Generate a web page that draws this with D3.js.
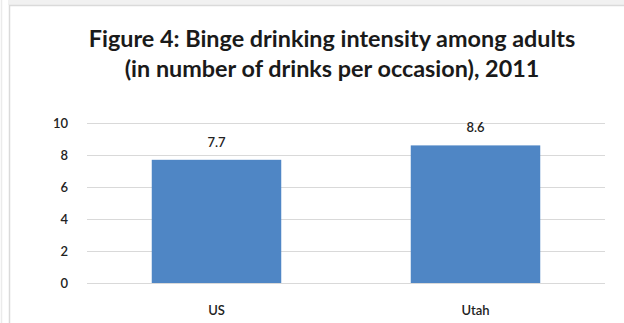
<!DOCTYPE html>
<html><head><meta charset="utf-8">
<script src="https://cdn.jsdelivr.net/npm/d3@7"></script>
<style>html,body{margin:0;padding:0;background:#fff;overflow:hidden}svg{display:block}</style>
</head><body>
<script>
const titleLines = ["Figure 4: Binge drinking intensity among adults", "(in number of drinks per occasion), 2011"];
const categories = ["US", "Utah"];
const values = [7.7, 8.6];
const valueLabels = ["7.7", "8.6"];
const yTicks = [0, 2, 4, 6, 8, 10];

const W = 624, H = 323;
const svg = d3.select("body").append("svg").attr("width", W).attr("height", H);

// page decoration / frame
svg.append("rect").attr("x", 0).attr("y", 0).attr("width", W).attr("height", H).attr("fill", "#fff");
svg.append("rect").attr("x", 8).attr("y", 0).attr("width", W - 8).attr("height", 5).attr("fill", "#f1f1f1");
svg.append("line").attr("x1", 1.5).attr("x2", 1.5).attr("y1", 0).attr("y2", H).attr("stroke", "#ebebeb").attr("stroke-width", 1.5);
svg.append("rect").attr("x", 9.5).attr("y", 5.5).attr("width", 700).attr("height", 400)
  .attr("fill", "#fff").attr("stroke", "#dadada").attr("stroke-width", 1.5);

const font = "Lato, 'Open Sans', sans-serif";
const x = d3.scaleBand().domain(categories).range([87, 605]).paddingInner(0.5).paddingOuter(0.25);
const y = d3.scaleLinear().domain([0, 10]).range([283, 123]);

// gridlines
const yAxis = d3.axisLeft(y).tickValues(yTicks).tickSize(-(605 - 87)).tickPadding(19).tickFormat(d3.format("d"));
const gy = svg.append("g").attr("transform", "translate(87,0)").call(yAxis);
gy.select(".domain").remove();
gy.selectAll(".tick line").attr("stroke", "#d9d9d9").attr("stroke-width", 1.2);
gy.selectAll(".tick text").attr("fill", "#222").attr("font-family", font).attr("font-size", 13).attr("font-weight", 600);

// bars
svg.selectAll("rect.bar").data(values).join("rect").attr("class", "bar")
  .attr("x", (d, i) => x(categories[i])).attr("width", x.bandwidth())
  .attr("y", d => y(d)).attr("height", d => y(0) - y(d))
  .attr("fill", "#4f86c5");

// value labels
svg.selectAll("text.val").data(values).join("text").attr("class", "val")
  .attr("x", (d, i) => x(categories[i]) + x.bandwidth() / 2)
  .attr("y", d => y(d) - 13)
  .attr("text-anchor", "middle").attr("font-family", font).attr("font-size", 13).attr("font-weight", 600)
  .attr("fill", "#222").text((d, i) => valueLabels[i]);

// category labels
const gx = svg.append("g").attr("transform", "translate(0,283)").call(d3.axisBottom(x).tickSize(0).tickPadding(23));
gx.select(".domain").remove();
gx.selectAll(".tick text").attr("fill", "#222").attr("font-family", font).attr("font-size", 13).attr("font-weight", 600);

// title (single font size, both lines centred on the same x)
const cx = 332;
const baselines = [47, 77];
const els = titleLines.map((t, i) => svg.append("text").attr("x", cx).attr("y", baselines[i])
  .attr("text-anchor", "middle").attr("font-family", font).attr("font-weight", 700)
  .attr("font-size", 20).attr("fill", "#1a1a1a").text(t));
const len0 = els[0].node().getComputedTextLength();
const fs = 20 * (577 - 90) / len0;
els.forEach(el => el.attr("font-size", fs));
</script>
</body></html>
